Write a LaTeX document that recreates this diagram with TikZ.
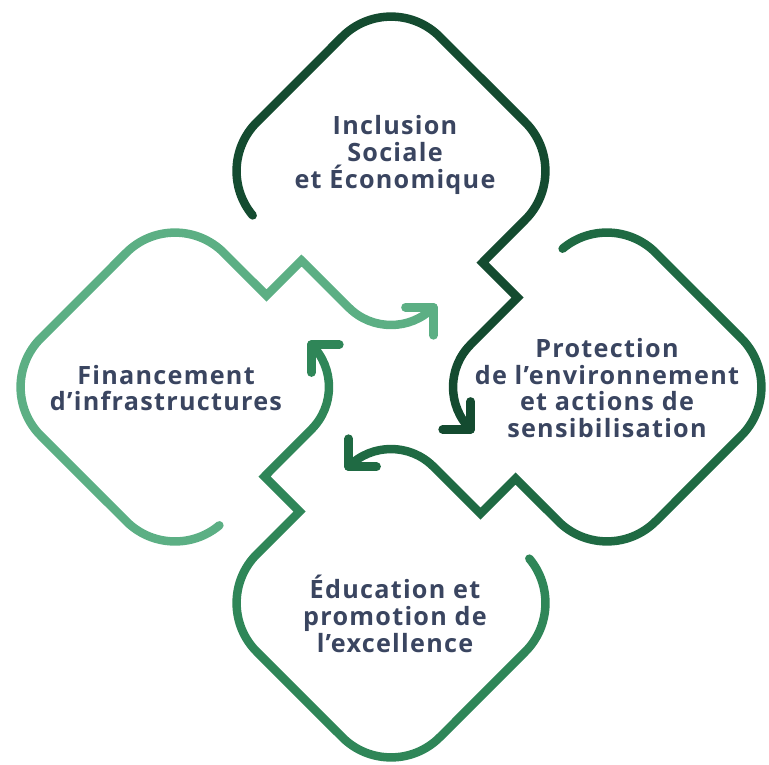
\documentclass[tikz,border=0pt]{standalone}
\usepackage{fontspec}
\setmainfont{Open Sans}[LetterSpace=5]
\definecolor{cA}{HTML}{144B30}
\definecolor{cB}{HTML}{1F6A43}
\definecolor{cC}{HTML}{2F8658}
\definecolor{cD}{HTML}{5CAF84}
\definecolor{txt}{HTML}{3A4560}
\tikzset{
  petal/.style={line width=8.5pt, line cap=round, line join=miter},
  lbl/.style={text=txt, align=center, font=\bfseries\fontsize{25.2}{26.8}\selectfont, inner sep=0pt}
}
\newcommand\petalshape[1]{%
  \draw[petal,#1] (-138.3,44.4) arc[start angle=140, end angle=225, radius=69pt]
    -- (-48.8,-134.2) arc[start angle=225, end angle=315, radius=69pt]
    -- (134.2,-48.8) arc[start angle=-45, end angle=45, radius=69pt]
    -- (91.5,91.5) -- (126.5,126.5)
    -- (79.6,173.6) arc[start angle=225, end angle=135, radius=60pt];
  \draw[petal,#1,line join=round] (51.6,258.4) -- (79.6,258.4) -- (79.6,230.4);
}
\begin{document}
\begin{tikzpicture}[x=1pt,y=1pt,yscale=-1]
\useasboundingbox (0,0) rectangle (769,764);
\begin{scope}[shift={(391,171)}]
  \petalshape{cA}
\end{scope}
\begin{scope}[shift={(607,387)},rotate=90]
  \petalshape{cB}
\end{scope}
\begin{scope}[shift={(391,603)},rotate=180]
  \petalshape{cC}
\end{scope}
\begin{scope}[shift={(175,387)},rotate=270]
  \petalshape{cD}
\end{scope}
\node[lbl] (inclusion) at (395,155) {Inclusion\\Sociale\\et Économique};
\node[lbl] (protection) at (607,388) {Protection\\de l’environnement\\et actions de\\sensibilisation};
\node[lbl] (financement) at (166,388) {Financement\\d’infrastructures};
\node[lbl] (education) at (395,614) {Éducation et\\promotion de\\l’excellence};
\end{tikzpicture}
\end{document}
